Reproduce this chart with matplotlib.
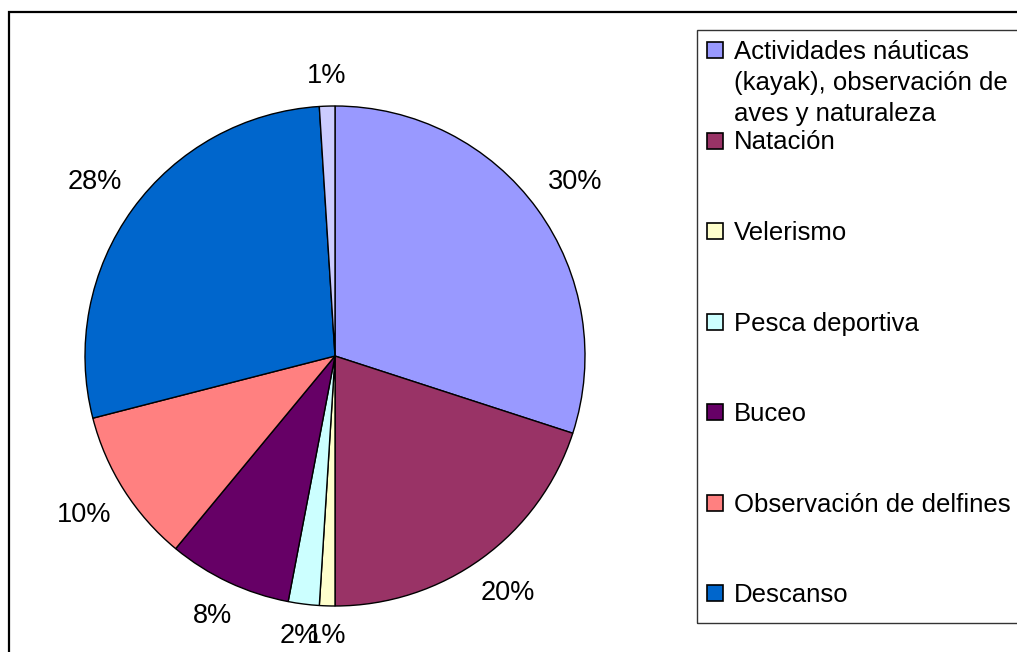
import numpy as np
import matplotlib.pyplot as plt
from matplotlib.patches import Rectangle
import matplotlib as mpl
mpl.rcParams['font.family'] = ['Liberation Sans', 'DejaVu Sans']

# datos
actividades = ['Actividades náuticas\n(kayak), observación de\naves y naturaleza',
               'Natación', 'Velerismo', 'Pesca deportiva', 'Buceo',
               'Observación de delfines', 'Descanso', 'Otros']
porcentajes = [30, 20, 1, 2, 8, 10, 28, 1]
colores = ['#9999FF', '#993366', '#FFFFCC', '#CCFFFF', '#660066',
           '#FF8080', '#0066CC', '#CCCCFF']
n_leyenda = 7  # la última categoría no aparece en la leyenda

W, H = 1017, 652
fig = plt.figure(figsize=(W / 100, H / 100), dpi=100)

# marco exterior (cortado por la derecha y abajo)
fig.patches.append(Rectangle((9 / W, -0.1), 2, (H - 12) / H + 0.1,
                             transform=fig.transFigure, fill=False,
                             edgecolor='black', linewidth=1.6))

# pastel: centro (335, 356) px, radio 250 px
cx, cy, R = 335, H - 356, 250
lim = 1.3
half = R * lim
ax = fig.add_axes([(cx - half) / W, (cy - half) / H, 2 * half / W, 2 * half / H])
cunas, _, etiquetas = ax.pie(porcentajes, colors=colores, startangle=90, counterclock=False,
                             radius=1, autopct='%1.0f%%', pctdistance=1.16,
                             wedgeprops={'edgecolor': 'black', 'linewidth': 1.0},
                             textprops={'fontsize': 19.5, 'color': 'black'})
ax.set_xlim(-lim, lim)
ax.set_ylim(-lim, lim)
ax.set_aspect('equal')
ax.axis('off')

# etiquetas a distancia fija del borde (como Excel)
fig.canvas.draw()
r0 = 1.068
for cuna, t in zip(cunas, etiquetas):
    ang = np.deg2rad((cuna.theta1 + cuna.theta2) / 2)
    bb = t.get_window_extent()
    w, h = bb.width / 2 / R, bb.height / 2 / R
    d = r0 + abs(np.cos(ang)) * w + abs(np.sin(ang)) * h
    t.set_position((d * np.cos(ang), d * np.sin(ang)))
    t.set_clip_on(False)

# leyenda manual
fig.patches.append(Rectangle((697 / W, (H - 623) / H), 1, (623 - 30) / H,
                             transform=fig.transFigure, fill=False,
                             edgecolor='#333333', linewidth=1.0))
y0, paso, interlinea = 50, 90.5, 31
for i in range(n_leyenda):
    yc = y0 + i * paso
    fig.patches.append(Rectangle((707 / W, (H - yc - 8) / H), 16 / W, 16 / H,
                                 transform=fig.transFigure, facecolor=colores[i],
                                 edgecolor='black', linewidth=1.2))
    for k, linea in enumerate(actividades[i].split('\n')):
        fig.text(734 / W, (H - yc - 9 - k * interlinea) / H, linea,
                 fontsize=18.5, va='baseline', ha='left')

fig.savefig('out.png', dpi=100)
